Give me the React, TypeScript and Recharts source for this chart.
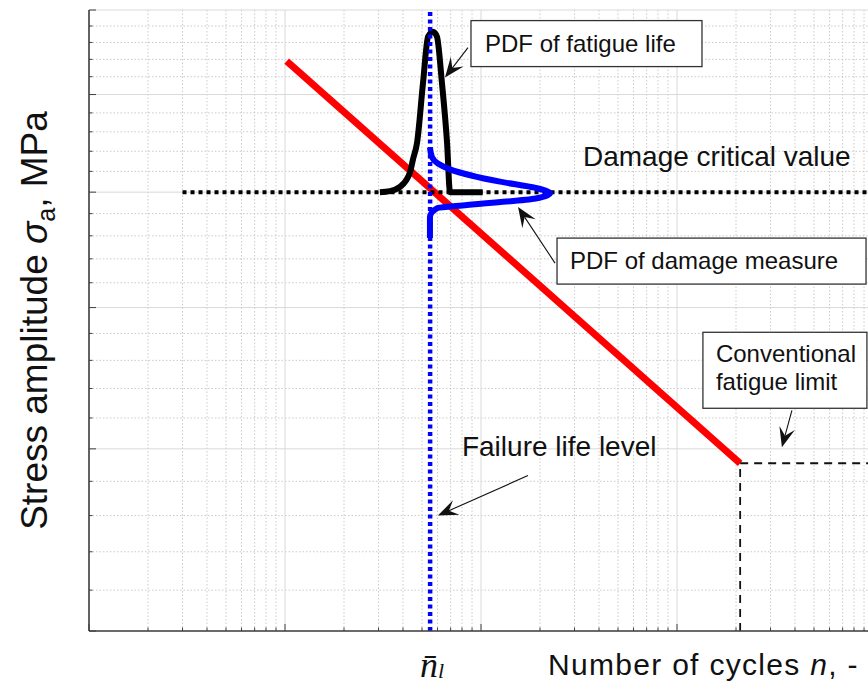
import React from 'react';
import {
  LineChart,
  Line,
  XAxis,
  YAxis,
  CartesianGrid,
  ReferenceLine,
  ReferenceDot,
  Label,
} from 'recharts';

const FONT = '"Liberation Sans", Arial, Helvetica, sans-serif';
const INK = '#111';
const AXIS = '#404040';

// number of cycles (log axis)
const cycleDecades = [1e3, 1e4, 1e5, 1e6, 1e7];
const cycleMinor = [
  2e3, 3e3, 4e3, 5e3, 6e3, 7e3, 8e3, 9e3,
  2e4, 3e4, 4e4, 5e4, 6e4, 7e4, 8e4, 9e4,
  2e5, 3e5, 4e5, 5e5, 6e5, 7e5, 8e5, 9e5,
  2e6, 3e6, 4e6, 5e6, 6e6, 7e6, 8e6, 9e6,
];

// stress amplitude, MPa (log axis)
const stressMajor = [300, 400, 500, 600, 700, 800];
const stressMinor = [
  320, 340, 360, 380, 420, 440, 460, 480, 520, 540, 560, 580,
  620, 640, 660, 680, 720, 740, 760, 780,
];

// mean failure life level
const nBar = 55000;

// S-N curve and fatigue limit
const snLine = [
  { n: 10200, s: 738 },
  { n: 2100000, s: 391 },
];
const limitH = [
  { n: 2100000, s: 391 },
  { n: 10000000, s: 391 },
];
const limitV = [
  { n: 2100000, s: 300 },
  { n: 2100000, s: 391 },
];
const criticalLevel = [
  { n: 3000, s: 600 },
  { n: 10000000, s: 600 },
];

// PDF of fatigue life (drawn over the critical level)
const lifePdf = [
  { n: 30500, s: 600 },
  { n: 34300, s: 601 },
  { n: 38600, s: 605 },
  { n: 43400, s: 619 },
  { n: 45000, s: 632 },
  { n: 47200, s: 649 },
  { n: 50600, s: 713 },
  { n: 53700, s: 767 },
  { n: 56900, s: 773 },
  { n: 59600, s: 767 },
  { n: 63200, s: 713 },
  { n: 67100, s: 649 },
  { n: 69500, s: 600 },
  { n: 102000, s: 600 },
];

// PDF of damage measure (sideways, along the stress axis)
const damagePdf = [
  { n: 54900, s: 644 },
  { n: 56200, s: 634 },
  { n: 69500, s: 622 },
  { n: 125000, s: 610 },
  { n: 190000, s: 604 },
  { n: 225000, s: 599 },
  { n: 190000, s: 594 },
  { n: 84900, s: 588 },
  { n: 59600, s: 585 },
  { n: 54900, s: 577 },
  { n: 54900, s: 558 },
];

const xTicks = [...cycleDecades, ...cycleMinor, nBar].sort((a, b) => a - b);
const xTicksTop = [...cycleDecades, ...cycleMinor].sort((a, b) => a - b);
const yTicks = [...stressMajor, ...stressMinor].sort((a, b) => a - b);

// callouts: anchored at the arrow tip, offsets in px
const callouts = [
  { n: 65500, s: 719, lines: ['PDF of fatigue life'], size: 24, tail: [23, -30], box: [26, -57, 231, 46], at: [40, -26] },
  { n: 154500, s: 586, lines: ['PDF of damage measure'], size: 24, tail: [37, 56], box: [39, 31, 309, 46], at: [52, 62] },
  { n: 60300, s: 360, lines: ['Failure life level'], size: 28, tail: [90, -40], at: [24, -60] },
  { n: 3430000, s: 401, lines: ['Conventional', 'fatigue limit'], size: 24, tail: [10, -37], box: [-79, -115, 164, 76], at: [-66, -85] },
  { n: 331500, s: 600, lines: ['Damage critical value'], size: 28, at: [0, -26] },
];

function Callout({ cx, cy, note }: any) {
  const parts: React.ReactNode[] = [];
  if (note.tail) {
    const x0 = cx + note.tail[0];
    const y0 = cy + note.tail[1];
    const ang = Math.atan2(cy - y0, cx - x0);
    const ux = Math.cos(ang), uy = Math.sin(ang);
    const vx = -uy, vy = ux;
    const p = (a: number, b: number) => `${cx - a * ux + b * vx},${cy - a * uy + b * vy}`;
    const L = 20, W = 8, N = 12;
    parts.push(
      <line key="shaft" x1={x0} y1={y0} x2={cx - N * ux} y2={cy - N * uy} stroke={INK} strokeWidth={1.1} />,
      <polygon key="head" points={`${p(0, 0)} ${p(L, W)} ${p(N, 0)} ${p(L, -W)}`} fill={INK} />
    );
  }
  if (note.box) {
    parts.push(
      <rect key="box" x={cx + note.box[0]} y={cy + note.box[1]} width={note.box[2]} height={note.box[3]}
        fill="#fff" stroke="#333" strokeWidth={1.3} />
    );
  }
  note.lines.forEach((t: string, i: number) => {
    parts.push(
      <text key={'t' + i} x={cx + note.at[0]} y={cy + note.at[1] + i * 28} fontFamily={FONT}
        fontSize={note.size} fill={INK}>{t}</text>
    );
  });
  return <g>{parts}</g>;
}

const BottomTick = (p: any) => {
  const v = p.payload.value;
  if (v === nBar) {
    return (
      <text x={p.x + 2} y={p.y + 46} textAnchor="middle" fontFamily='"Liberation Serif", serif'
        fontStyle="italic" fontSize={36} fill={INK}>
        {'n\u0304'}<tspan fontSize={22} dy={1}>l</tspan>
      </text>
    );
  }
  const len = cycleDecades.includes(v) ? 7 : 3.5;
  return <line x1={p.x} y1={p.y} x2={p.x} y2={p.y - len} stroke={AXIS} strokeWidth={1} />;
};

const TopTick = (p: any) => {
  const len = cycleDecades.includes(p.payload.value) ? 7 : 3.5;
  return <line x1={p.x} y1={p.y} x2={p.x} y2={p.y + len} stroke={AXIS} strokeWidth={1} />;
};

const LeftTick = (p: any) => {
  const len = stressMajor.includes(p.payload.value) ? 7 : 3.5;
  return <line x1={p.x} y1={p.y} x2={p.x + len} y2={p.y} stroke={AXIS} strokeWidth={1} />;
};

const XTitle = (props: any) => {
  const { x, y } = props.viewBox;
  return (
    <text x={x + 459} y={y + 44} fontFamily={FONT} fontSize={30} letterSpacing={1.3} fill={INK}>
      {'Number of cycles '}
      <tspan fontStyle="italic">n</tspan>
      {', -'}
    </text>
  );
};

const YTitle = (props: any) => {
  const { x, y, height } = props.viewBox;
  const cx = x + 47;
  const cy = y + height / 2;
  return (
    <text x={cx} y={cy} transform={`rotate(-90 ${cx} ${cy})`} textAnchor="middle" fontFamily={FONT}
      fontSize={37} fill={INK}>
      {'Stress amplitude '}
      <tspan fontStyle="italic">σ</tspan>
      <tspan fontSize={25} dy={8}>a</tspan>
      <tspan dy={-8}>{', MPa'}</tspan>
    </text>
  );
};

export default function App() {
  return (
    <div style={{ position: 'fixed', left: 0, top: 0, width: 868, height: 686, overflow: 'hidden', background: '#fff' }}>
      <LineChart width={900} height={686} margin={{ top: 10, right: 27, bottom: 0, left: 0 }}>
        <CartesianGrid horizontalValues={stressMinor} verticalValues={cycleMinor}
          stroke="#bdbdbd" strokeDasharray="1.5 2" strokeWidth={0.8} />
        <CartesianGrid horizontalValues={stressMajor} verticalValues={cycleDecades}
          stroke="#d9d9d9" strokeWidth={1} />
        <XAxis dataKey="n" type="number" scale="log" domain={[1e3, 1e7]} allowDataOverflow
          ticks={xTicks} interval={0} height={55} tickLine={false} tickSize={0} tickMargin={0}
          tick={BottomTick} axisLine={{ stroke: AXIS, strokeWidth: 1.6 }}>
          <Label content={XTitle} />
        </XAxis>
        <XAxis xAxisId="top" orientation="top" dataKey="n" type="number" scale="log" domain={[1e3, 1e7]}
          allowDataOverflow ticks={xTicksTop} interval={0} height={0} tickLine={false} tickSize={0}
          tickMargin={0} tick={TopTick} axisLine={{ stroke: AXIS, strokeWidth: 1.6 }} />
        <YAxis dataKey="s" type="number" scale="log" domain={[300, 800]} allowDataOverflow
          ticks={yTicks} interval={0} width={89} tickLine={false} tickSize={0} tickMargin={0}
          tick={LeftTick} axisLine={{ stroke: AXIS, strokeWidth: 1.6 }}>
          <Label content={YTitle} />
        </YAxis>

        <Line data={snLine} dataKey="s" type="linear" stroke="#ff0000" strokeWidth={7}
          dot={false} activeDot={false} isAnimationActive={false} />
        <Line data={limitH} dataKey="s" type="linear" stroke={INK} strokeWidth={1.8}
          strokeDasharray="8 6" dot={false} activeDot={false} isAnimationActive={false} />
        <Line data={limitV} dataKey="s" type="linear" stroke={INK} strokeWidth={1.8}
          strokeDasharray="8 6" dot={false} activeDot={false} isAnimationActive={false} />
        <Line data={criticalLevel} dataKey="s" type="linear" stroke="#000" strokeWidth={4}
          strokeDasharray="4 4" dot={false} activeDot={false} isAnimationActive={false} />
        <Line data={lifePdf} dataKey="s" type="monotone" stroke="#000" strokeWidth={6}
          strokeLinejoin="round" dot={false} activeDot={false} isAnimationActive={false} />
        <Line data={damagePdf} dataKey="s" type="monotoneY" stroke="#0000ff" strokeWidth={6}
          strokeLinejoin="round" dot={false} activeDot={false} isAnimationActive={false} />

        <ReferenceLine x={nBar} stroke="#0000ff" strokeWidth={4.5} strokeDasharray="4 3.5" />

        {callouts.map((c, i) => (
          <ReferenceDot key={i} x={c.n} y={c.s} r={0}
            shape={(p: any) => <Callout cx={p.cx} cy={p.cy} note={c} />} />
        ))}
      </LineChart>
    </div>
  );
}
